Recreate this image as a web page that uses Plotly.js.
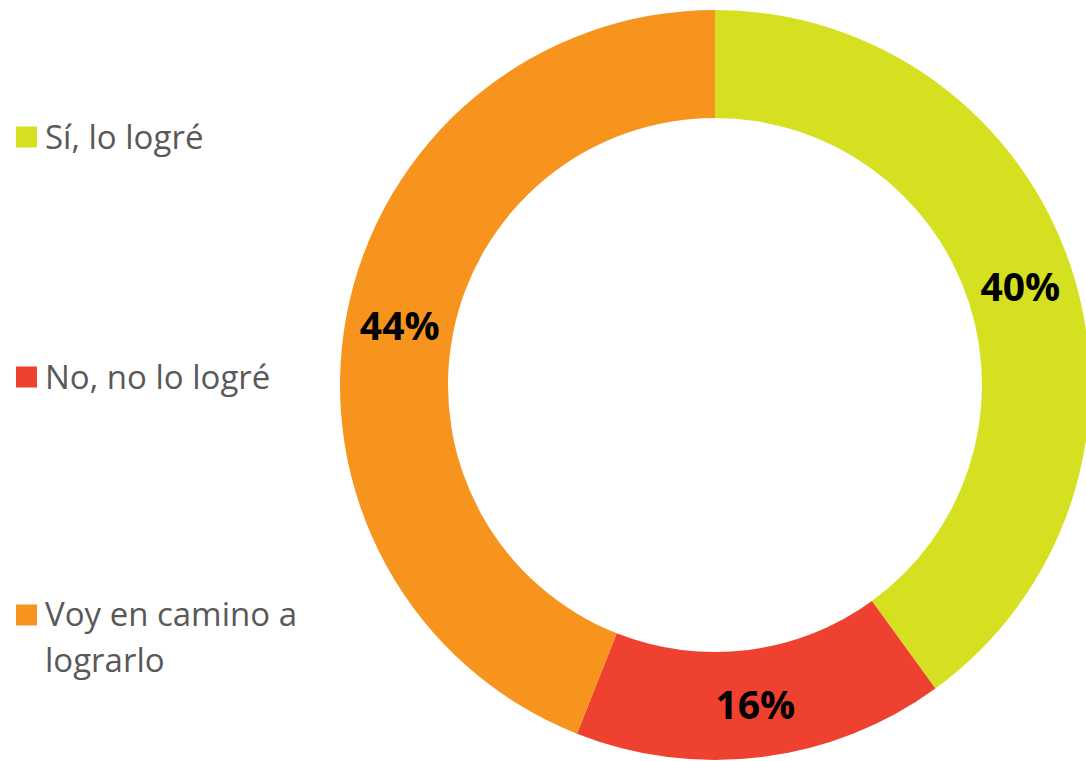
<!DOCTYPE html>
<html>
<head>
<meta charset="utf-8">
<script src="https://cdn.plot.ly/plotly-3.0.1.min.js"></script>
<style>
html,body{margin:0;padding:0;overflow:hidden;background:#fff;}
#chart{width:1094px;height:761px;}
</style>
</head>
<body>
<div id="chart"></div>
<script>
const labels = ["Sí, lo logré", "No, no lo logré", "Voy en camino a<br>lograrlo"];
const values = [40, 16, 44];
const colors = ["#D5E021", "#EF4130", "#F7941E"];
const legendY = [137, 377, 615]; // pixel centres of legend rows from top

const H = 761, W = 1094;
const legendFont = {family: "'Open Sans', sans-serif", size: 33, color: "#595959"};
const lineGap = 45;

const trace = {
  type: "pie",
  labels: labels,
  values: values,
  sort: false,
  direction: "clockwise",
  rotation: 0,
  hole: 0.712,
  marker: {colors: colors, line: {width: 0}},
  texttemplate: "%{percent:.0%}",
  textposition: "inside",
  insidetextorientation: "horizontal",
  textfont: {family: "'Open Sans', sans-serif", size: 39, color: "#000", weight: "bold"},
  showlegend: false,
  domain: {x: [340/W, 1090/W], y: [1/H, 751/H]},
  hoverinfo: "label+percent"
};

const annotations = [];
const shapes = [];
labels.forEach((lab, i) => {
  const yc = 1 - legendY[i] / H;
  shapes.push({
    type: "rect", xref: "paper", yref: "paper",
    x0: 16/W, x1: 37/W,
    y0: yc - 10.5/H, y1: yc + 10.5/H,
    fillcolor: colors[i], line: {width: 0}
  });
  lab.split("<br>").forEach((line, j) => {
    annotations.push({
      xref: "paper", yref: "paper",
      x: 43/W, y: yc - (j * lineGap - 1) / H,
      xanchor: "left", yanchor: "middle", align: "left",
      text: line, showarrow: false,
      font: legendFont
    });
  });
});

const layout = {
  width: W, height: H,
  margin: {l: 0, r: 0, t: 0, b: 0},
  paper_bgcolor: "#fff",
  showlegend: false,
  shapes: shapes,
  annotations: annotations
};

Plotly.newPlot("chart", [trace], layout, {displayModeBar: false, staticPlot: true});
</script>
</body>
</html>
